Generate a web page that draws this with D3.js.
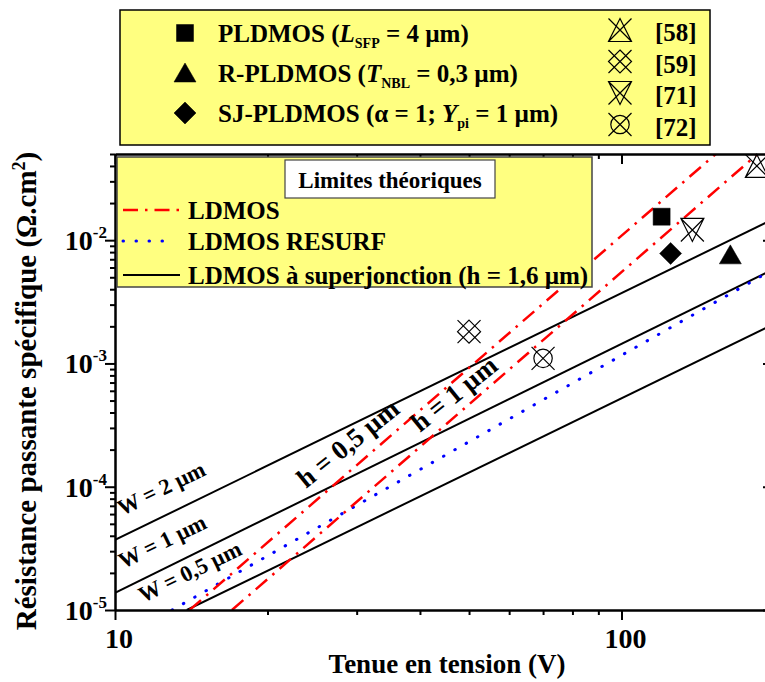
<!DOCTYPE html>
<html>
<head>
<meta charset="utf-8">
<script src="https://cdn.jsdelivr.net/npm/d3@7"></script>
<style>
body { margin: 0; background: #fff; }
svg text { font-family: "Liberation Serif", "Times New Roman", serif; font-weight: bold; fill: #000; }
</style>
</head>
<body>
<div id="chart"></div>
<script>
// Axis ticks
var xMajor = [10, 100];
var xMajorLabels = ["10", "100"];
var yMajor = [1e-5, 1e-4, 1e-3, 1e-2];
var yMajorExp = ["-5", "-4", "-3", "-2"];

// Theoretical limits, [V, Ron.S] end points
var sjW2 = [[10, 3.70e-5], [200, 1.49e-2]];
var sjW1 = [[10, 1.38e-5], [200, 5.84e-3]];
var sjW05 = [[13.86, 1e-5], [200, 2.09e-3]];
var resurf = [[12.96, 1e-5], [200, 5.84e-3]];
var ldmosH05 = [[14.04, 1e-5], [153.5, 0.05]];
var ldmosH1 = [[17.02, 1e-5], [185.7, 0.05]];

// Devices and references, [V, Ron.S]
var pldmos = [[120, 1.55e-2]];
var rpldmos = [[164, 7.6e-3]];
var sjpldmos = [[125, 7.8e-3]];
var ref58 = [[185, 4.0e-2]];
var ref59 = [[50, 1.81e-3]];
var ref71 = [[138, 1.21e-2]];
var ref72 = [[70, 1.1e-3]];

var refLabels = ["[58]", "[59]", "[71]", "[72]"];
var wLabels = ["W = 2 µm", "W = 1 µm", "W = 0,5 µm"];
var hLabels = ["h = 0,5 µm", "h = 1 µm"];

var W = 765, H = 682;
var plot = {left: 115, top: 154, right: 774, bottom: 610};

var svg = d3.select("#chart").append("svg").attr("width", W).attr("height", H);

var x = d3.scaleLog().domain([10, 200]).range([plot.left, plot.right]);
var y = d3.scaleLog().domain([1e-5, 0.05]).range([plot.bottom, plot.top]);

var isMajor = function (v) { return Math.abs(Math.log10(v) - Math.round(Math.log10(v))) < 1e-9; };
var xMinor = x.ticks().filter(function (v) { return !isMajor(v); });
var yMinor = y.ticks().filter(function (v) { return !isMajor(v); });

// markers: paths centred on 0,0
function markerPath(type, h) {
    var p = d3.path();
    if (type === "square") { p.rect(-h, -h, 2 * h, 2 * h); }
    if (type === "triangle") { p.moveTo(0, -h); p.lineTo(h * 1.1, h * 0.9); p.lineTo(-h * 1.1, h * 0.9); p.closePath(); }
    if (type === "diamond") { p.moveTo(0, -h); p.lineTo(h, 0); p.lineTo(0, h); p.lineTo(-h, 0); p.closePath(); }
    if (type === "xup" || type === "xdown" || type === "xdia" || type === "xcirc") {
        p.moveTo(-h, -h); p.lineTo(h, h); p.moveTo(h, -h); p.lineTo(-h, h);
    }
    if (type === "xup") { p.moveTo(0, -h); p.lineTo(h, h); p.lineTo(-h, h); p.closePath(); }
    if (type === "xdown") { p.moveTo(-h, -h); p.lineTo(h, -h); p.lineTo(0, h); p.closePath(); }
    if (type === "xdia") { p.moveTo(0, -h); p.lineTo(h, 0); p.lineTo(0, h); p.lineTo(-h, 0); p.closePath(); }
    if (type === "xcirc") { p.moveTo(h * 0.8, 0); p.arc(0, 0, h * 0.8, 0, 2 * Math.PI); }
    return p.toString();
}
var filledTypes = {square: 8.5, triangle: 10, diamond: 11};

function drawMarker(g, type, cx, cy) {
    var filled = filledTypes[type] !== undefined;
    g.append("path")
        .attr("transform", "translate(" + cx + "," + cy + ")")
        .attr("d", markerPath(type, filled ? filledTypes[type] : 11.5))
        .attr("fill", filled ? "#000" : "none")
        .attr("stroke", "#000")
        .attr("stroke-width", filled ? 0.5 : 1.2);
}

// Top legend box
svg.append("rect").attr("x", 120).attr("y", 10).attr("width", 590).attr("height", 135)
    .attr("fill", "#ffff80").attr("stroke", "#000").attr("stroke-width", 1.5);

var topRows = [
    {type: "square", cy: 33},
    {type: "triangle", cy: 73},
    {type: "diamond", cy: 113}
];
topRows.forEach(function (r) { drawMarker(svg, r.type, 185, r.cy); });

function subText(g, yPos, parts) {
    var t = g.append("text").attr("x", 218).attr("y", yPos).style("font-size", "25px");
    parts.forEach(function (p) {
        var s = t.append("tspan").text(p.t);
        if (p.it) s.style("font-style", "italic");
        if (p.sub) s.style("font-size", "14px").attr("dy", 6);
        if (p.up) s.attr("dy", -6);
    });
}
subText(svg, 42, [{t: "PLDMOS ("}, {t: "L", it: true}, {t: "SFP", sub: true}, {t: " = 4 µm)", up: true}]);
subText(svg, 82, [{t: "R-PLDMOS ("}, {t: "T", it: true}, {t: "NBL", sub: true}, {t: " = 0,3 µm)", up: true}]);
subText(svg, 122, [{t: "SJ-PLDMOS (α = 1; "}, {t: "Y", it: true}, {t: "pi", sub: true}, {t: " = 1 µm)", up: true}]);

var refTypes = ["xup", "xdia", "xdown", "xcirc"];
refTypes.forEach(function (t, i) {
    var cy = 30 + i * 31.5;
    drawMarker(svg, t, 620, cy);
    svg.append("text").attr("x", 655).attr("y", cy + 11).style("font-size", "25px").text(refLabels[i]);
});

// Plot area
svg.append("clipPath").attr("id", "clip").append("rect")
    .attr("x", plot.left).attr("y", plot.top)
    .attr("width", plot.right - plot.left).attr("height", plot.bottom - plot.top);

var line = d3.line().x(function (d) { return x(d[0]); }).y(function (d) { return y(d[1]); });
var lines = svg.append("g").attr("clip-path", "url(#clip)");

var redStyle = {stroke: "#ff0000", width: 2.5, dash: "15,7,2.5,7", cap: "butt"};
var blueStyle = {stroke: "#0000ff", width: 3, dash: "0.5,12.5", cap: "round"};
var blackStyle = {stroke: "#000", width: 2, dash: null, cap: "butt"};

[[sjW2, blackStyle], [sjW1, blackStyle], [sjW05, blackStyle],
 [resurf, blueStyle], [ldmosH05, redStyle], [ldmosH1, redStyle]].forEach(function (l) {
    lines.append("path").datum(l[0]).attr("d", line)
        .attr("fill", "none")
        .attr("stroke", l[1].stroke)
        .attr("stroke-width", l[1].width)
        .attr("stroke-dasharray", l[1].dash)
        .attr("stroke-linecap", l[1].cap);
});

// Axes
function styleAxis(g) {
    g.selectAll("path").attr("stroke", "#000").attr("stroke-width", 2);
    g.selectAll("line").attr("stroke", "#000").attr("stroke-width", 2);
    g.selectAll("text").remove();
}
var axes = svg.append("g");
axes.append("g").attr("transform", "translate(0," + plot.bottom + ")")
    .call(d3.axisBottom(x).tickValues(xMinor).tickSize(5).tickSizeOuter(0)).call(styleAxis);
axes.append("g").attr("transform", "translate(0," + plot.bottom + ")")
    .call(d3.axisBottom(x).tickValues(xMajor).tickSize(10).tickSizeOuter(0)).call(styleAxis);
axes.append("g").attr("transform", "translate(0," + plot.top + ")")
    .call(d3.axisTop(x).tickValues(xMinor).tickSize(-5).tickSizeOuter(0)).call(styleAxis);
axes.append("g").attr("transform", "translate(0," + plot.top + ")")
    .call(d3.axisTop(x).tickValues(xMajor).tickSize(-10).tickSizeOuter(0)).call(styleAxis);
axes.append("g").attr("transform", "translate(" + plot.left + ",0)")
    .call(d3.axisLeft(y).tickValues(yMinor).tickSize(5).tickSizeOuter(0)).call(styleAxis);
axes.append("g").attr("transform", "translate(" + plot.left + ",0)")
    .call(d3.axisLeft(y).tickValues(yMajor).tickSize(10).tickSizeOuter(0)).call(styleAxis);
axes.append("g").attr("transform", "translate(" + plot.right + ",0)")
    .call(d3.axisRight(y).tickValues(yMinor).tickSize(-5).tickSizeOuter(0)).call(styleAxis);
axes.append("g").attr("transform", "translate(" + plot.right + ",0)")
    .call(d3.axisRight(y).tickValues(yMajor).tickSize(-11).tickSizeOuter(0)).call(styleAxis);

// Tick labels
xMajor.forEach(function (v, i) {
    svg.append("text").attr("x", x(v) + 4).attr("y", plot.bottom + 38)
        .attr("text-anchor", "middle").style("font-size", "28px").text(xMajorLabels[i]);
});
yMajor.forEach(function (v, i) {
    var t = svg.append("text").attr("x", 107).attr("y", y(v) + 10)
        .attr("text-anchor", "end").style("font-size", "28px");
    t.append("tspan").text("10");
    t.append("tspan").attr("dy", -12).style("font-size", "17px").text(yMajorExp[i]);
});

// Axis titles
svg.append("text").attr("x", 447).attr("y", 673).attr("text-anchor", "middle")
    .style("font-size", "27px").text("Tenue en tension (V)");
var yt = svg.append("text").attr("transform", "translate(36,391) rotate(-90)")
    .attr("text-anchor", "middle").style("font-size", "29px");
yt.append("tspan").text("Résistance passante spécifique (Ω.cm");
yt.append("tspan").attr("dy", -11).style("font-size", "18px").text("2");
yt.append("tspan").attr("dy", 11).text(")");

// Markers
var marks = svg.append("g");
[[pldmos, "square"], [rpldmos, "triangle"], [sjpldmos, "diamond"],
 [ref58, "xup"], [ref59, "xdia"], [ref71, "xdown"], [ref72, "xcirc"]].forEach(function (m) {
    m[0].forEach(function (d) { drawMarker(marks, m[1], x(d[0]), y(d[1])); });
});

// Line annotations
var wPos = [[122, 516], [123, 569], [143, 603]];
wLabels.forEach(function (s, i) {
    svg.append("text").attr("transform", "translate(" + wPos[i][0] + "," + wPos[i][1] + ") rotate(-26)")
        .style("font-size", "22.5px").text(s);
});
var hPos = [[306, 489], [420, 433]];
hLabels.forEach(function (s, i) {
    svg.append("text").attr("transform", "translate(" + hPos[i][0] + "," + hPos[i][1] + ") rotate(-39)")
        .style("font-size", "27px").text(s);
});

// Legend for theoretical limits
var lg = svg.append("g");
lg.append("rect").attr("x", 117).attr("y", 157).attr("width", 475).attr("height", 130)
    .attr("fill", "#ffff80").attr("stroke", "#444").attr("stroke-width", 1.5);
lg.append("rect").attr("x", 285).attr("y", 160).attr("width", 210).attr("height", 38)
    .attr("fill", "#fff").attr("stroke", "#444").attr("stroke-width", 1.2);
lg.append("text").attr("x", 390).attr("y", 188).attr("text-anchor", "middle")
    .style("font-size", "23px").text("Limites théoriques");
var legRows = [
    {style: redStyle, y: 210, x2: 180, label: "LDMOS"},
    {style: blueStyle, y: 241, x2: 172, label: "LDMOS RESURF"},
    {style: blackStyle, y: 275, x2: 180, label: "LDMOS à superjonction (h = 1,6 µm)"}
];
legRows.forEach(function (r) {
    lg.append("line").attr("x1", 123).attr("x2", r.x2).attr("y1", r.y).attr("y2", r.y)
        .attr("stroke", r.style.stroke).attr("stroke-width", r.style.width)
        .attr("stroke-dasharray", r.style.dash).attr("stroke-linecap", r.style.cap);
    lg.append("text").attr("x", 188).attr("y", r.y + 9).style("font-size", "25px").text(r.label);
});
</script>
</body>
</html>
